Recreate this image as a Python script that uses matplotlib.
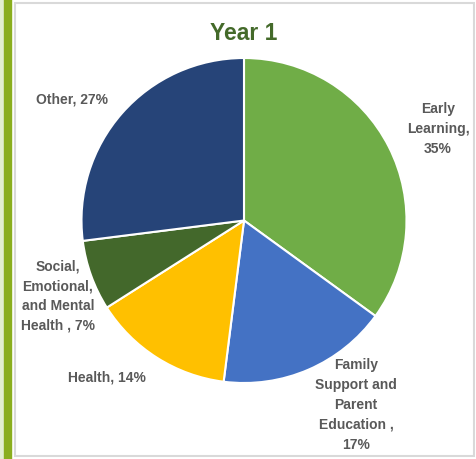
import matplotlib
matplotlib.use('Agg')
import matplotlib.pyplot as plt
from matplotlib.patches import Rectangle

# data
categories = ['Early\nLearning,\n35%', 'Family\nSupport and\nParent\nEducation ,\n17%',
              'Health, 14%', 'Social,\nEmotional,\nand Mental\nHealth , 7%', 'Other, 27%']
values = [35, 17, 14, 7, 27]
colors = ['#70AD47', '#4472C4', '#FFC000', '#43682B', '#264478']
# label centres in pixels (x, y from top)
label_pos = [(438, 129), (356, 405), (107, 378), (58, 296), (72, 100)]

W, H = 477, 460
plt.rcParams['font.family'] = ['Liberation Sans', 'DejaVu Sans']
fig = plt.figure(figsize=(W / 100, H / 100), dpi=100)

# decorative frame
fig.patches.append(Rectangle((0, 0), 4 / W, 1, transform=fig.transFigure,
                             color='#E3EFD0', zorder=0))
fig.patches.append(Rectangle((4 / W, 0), 7 / W, 1, transform=fig.transFigure,
                             color='#8AAE1E', zorder=0))
fig.patches.append(Rectangle((15 / W, 3 / H), 459 / W, 453 / H,
                             transform=fig.transFigure, fill=False,
                             edgecolor='#D9D9D9', linewidth=1.5, zorder=0))

# pie axis: centre (244, 221), radius 162.5
r = 162.5
cx, cy = 244, 221.5
ax = fig.add_axes([(cx - r) / W, 1 - (cy + r) / H, 2 * r / W, 2 * r / H])
ax.pie(values, colors=colors, startangle=90, counterclock=False,
       wedgeprops=dict(edgecolor='white', linewidth=1.5))
ax.set_xlim(-1, 1)
ax.set_ylim(-1, 1)
ax.set_aspect('auto')

for lab, (px, py) in zip(categories, label_pos):
    fig.text(px / W, 1 - py / H, lab, ha='center', va='center',
             fontsize=10, fontweight='bold', color='#595959',
             linespacing=1.53)

fig.text(244 / W, 1 - 33 / H, 'Year 1', ha='center', va='center',
         fontsize=16.5, fontweight='bold', color='#446A2A')

fig.savefig('out.png', dpi=100)
